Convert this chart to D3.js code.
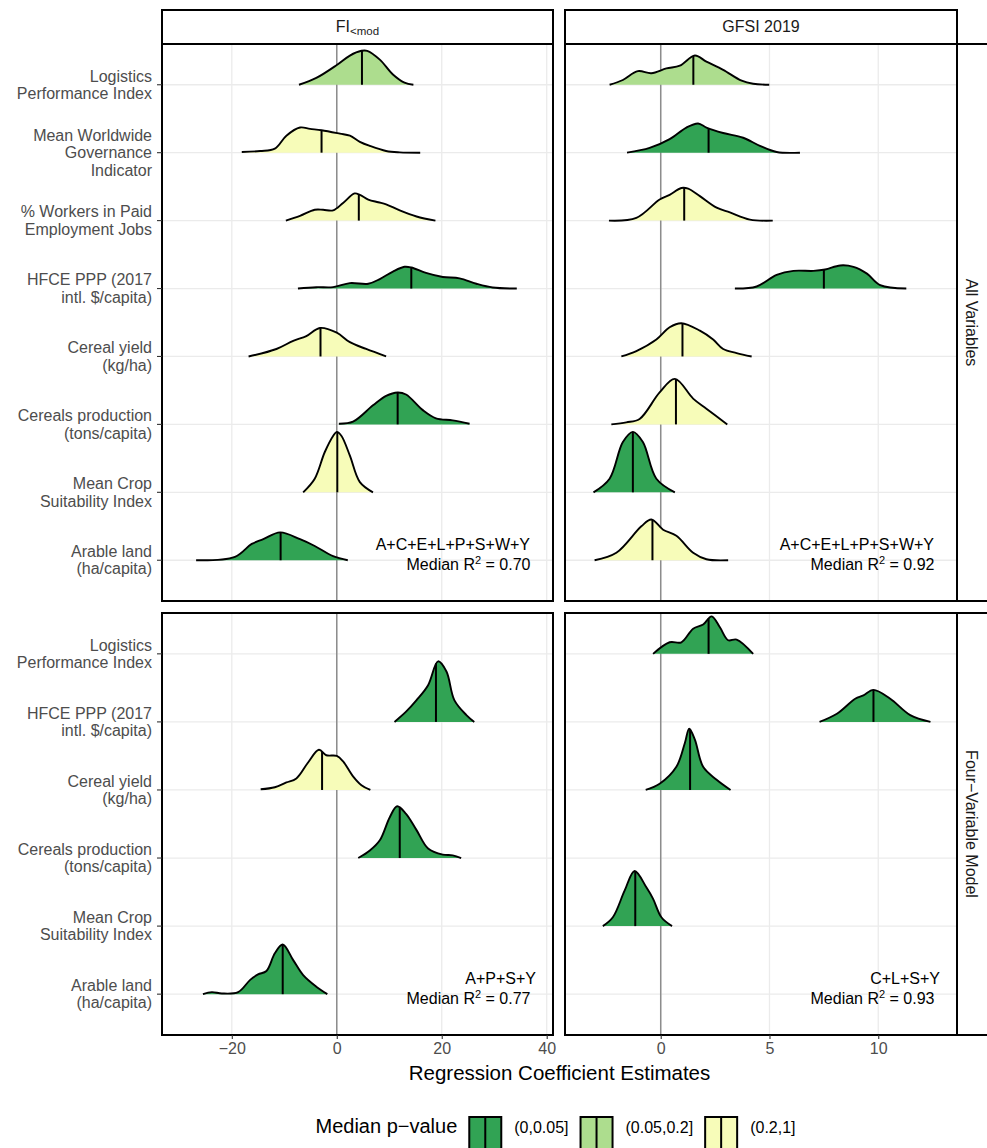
<!DOCTYPE html>
<html lang="en">
<head>
<meta charset="UTF-8">
<title>Regression Coefficient Estimates</title>
<script src="https://d3js.org/d3.v7.min.js"></script>
<style>
  body { margin: 0; background: #fff; }
  svg text { font-family: "Liberation Sans", Arial, Helvetica, sans-serif; }
</style>
</head>
<body>
<svg id="chart" width="987" height="1148"></svg>
<script>
// ---- data ----
const varLabels = {
  LPI: ["Logistics", "Performance Index"],
  WGI: ["Mean Worldwide", "Governance", "Indicator"],
  EMP: ["% Workers in Paid", "Employment Jobs"],
  HFCE: ["HFCE PPP (2017", "intl. $/capita)"],
  CY: ["Cereal yield", "(kg/ha)"],
  CP: ["Cereals production", "(tons/capita)"],
  CSI: ["Mean Crop", "Suitability Index"],
  AL: ["Arable land", "(ha/capita)"]
};
const rowsAll = ["LPI", "WGI", "EMP", "HFCE", "CY", "CP", "CSI", "AL"];
const rowsFour = ["LPI", "HFCE", "CY", "CP", "CSI", "AL"];
const rowNames = ["All Variables", "Four\u2212Variable Model"];
const colNames = ["FI", "GFSI 2019"];

const pBins = ["(0,0.05]", "(0.05,0.2]", "(0.2,1]"];
const pColors = ["#31a354", "#addd8e", "#f7fcb9"];

const xTicksFI = [-20, 0, 20, 40];
const xTicksGFSI = [0, 5, 10];

// ridge outlines: [coefficient, density height as share of one row]
const fiAll = [
  { v: "LPI", p: 1, median: 4.8, pts: [[-7.2,0],[-3.9,0.10],[0,0.29],[2.5,0.43],[4.7,0.50],[5.8,0.50],[8.2,0.37],[10.7,0.15],[12.9,0.03],[14.6,0]] },
  { v: "WGI", p: 2, median: -2.9, pts: [[-18.1,0.01],[-14.6,0.025],[-11.8,0.06],[-9.6,0.25],[-7.0,0.37],[-5.1,0.35],[-2.9,0.33],[0.6,0.28],[2.5,0.25],[4.4,0.16],[6.3,0.10],[9.4,0.025],[12,0.005],[15.9,0]] },
  { v: "EMP", p: 2, median: 4.2, pts: [[-9.7,0],[-7,0.07],[-4.2,0.16],[-2.6,0.16],[-0.7,0.15],[1.2,0.26],[3.4,0.40],[4.4,0.38],[6,0.31],[7.9,0.27],[9.4,0.24],[12,0.15],[15.2,0.06],[18.8,0]] },
  { v: "HFCE", p: 0, median: 14.2, pts: [[-7.4,0],[-3.9,0.02],[-0.7,0.02],[2.5,0.08],[6,0.07],[8.2,0.14],[10.7,0.25],[12.9,0.32],[14.2,0.31],[17,0.23],[20.2,0.17],[23.4,0.15],[26.6,0.07],[29.7,0.015],[34.3,0]] },
  { v: "CY", p: 2, median: -3.1, pts: [[-16.8,0],[-11.5,0.11],[-8.3,0.23],[-5.8,0.30],[-3.2,0.42],[0,0.35],[2.5,0.21],[5.6,0.11],[9.4,0]] },
  { v: "CP", p: 0, median: 11.6, pts: [[0.4,0.01],[3.1,0.04],[6.9,0.28],[9.4,0.42],[11.6,0.47],[13.2,0.44],[16.4,0.21],[18.9,0.09],[22.1,0.06],[25.3,0.01]] },
  { v: "CSI", p: 2, median: 0.1, pts: [[-6.4,0],[-4.2,0.20],[-2.3,0.59],[-0.7,0.83],[0,0.89],[0.9,0.83],[2.5,0.54],[4.4,0.15],[6.9,0]] },
  { v: "AL", p: 0, median: -10.7, pts: [[-26.8,0],[-19.4,0.05],[-16.2,0.24],[-14,0.31],[-10.8,0.41],[-7,0.31],[-4.2,0.21],[-0.7,0.06],[2.1,0]] }
];
const gfsiAll = [
  { v: "LPI", p: 1, median: 1.5, pts: [[-2.35,0],[-1.74,0.07],[-1.05,0.20],[-0.43,0.17],[0.26,0.24],[0.88,0.28],[1.57,0.43],[2.1,0.34],[2.87,0.22],[3.72,0.06],[4.25,0.015],[4.99,0]] },
  { v: "WGI", p: 0, median: 2.2, pts: [[-1.55,0],[-0.51,0.07],[0.41,0.20],[1.18,0.37],[1.72,0.43],[2.1,0.37],[2.87,0.29],[3.79,0.22],[4.56,0.10],[5.33,0.01],[6.4,0]] },
  { v: "EMP", p: 2, median: 1.08, pts: [[-2.38,0],[-1.12,0.04],[-0.05,0.31],[0.41,0.38],[0.95,0.48],[1.26,0.47],[1.8,0.36],[2.57,0.19],[3.18,0.12],[4.1,0.015],[5.15,0]] },
  { v: "HFCE", p: 0, median: 7.5, pts: [[3.41,0],[4.41,0.03],[5.33,0.20],[6.1,0.26],[7.02,0.26],[7.56,0.28],[8.25,0.34],[8.86,0.32],[9.48,0.22],[10.09,0.05],[11.29,0]] },
  { v: "CY", p: 2, median: 1.0, pts: [[-1.81,0],[-1.12,0.08],[-0.2,0.25],[0.41,0.43],[0.95,0.49],[1.8,0.38],[2.41,0.25],[2.87,0.11],[3.49,0.05],[4.18,0]] },
  { v: "CP", p: 2, median: 0.7, pts: [[-2.27,0],[-1.58,0.03],[-0.97,0.08],[-0.05,0.47],[0.65,0.67],[1.49,0.38],[2.1,0.23],[3.06,0]] },
  { v: "CSI", p: 0, median: -1.28, pts: [[-3.09,0],[-2.35,0.20],[-1.74,0.74],[-1.28,0.89],[-0.82,0.74],[-0.2,0.20],[0.65,0]] },
  { v: "AL", p: 2, median: -0.38, pts: [[-3.04,0],[-2.04,0.11],[-0.89,0.50],[-0.43,0.60],[0.11,0.45],[0.72,0.36],[1.49,0.11],[2.1,0.015],[3.1,0]] }
];
const fiFour = [
  { v: "HFCE", p: 0, median: 18.9, pts: [[11.0,0],[13.2,0.15],[15.2,0.32],[17.4,0.54],[19.3,0.89],[20.9,0.74],[22.4,0.32],[24.7,0.10],[26.2,0]] },
  { v: "CY", p: 2, median: -2.8, pts: [[-14.5,0.01],[-11.8,0.04],[-9.6,0.11],[-7.7,0.17],[-5.5,0.40],[-3.4,0.59],[-2,0.51],[0,0.50],[1.2,0.42],[3.1,0.20],[4.7,0.07],[6.4,0]] },
  { v: "CP", p: 0, median: 12.0, pts: [[4.1,0],[6.3,0.11],[8.2,0.26],[10.1,0.60],[11.5,0.76],[13.2,0.65],[15.2,0.41],[17.4,0.14],[20.2,0.05],[22.1,0.04],[23.7,0]] },
  { v: "AL", p: 0, median: -10.3, pts: [[-25.5,0],[-23.8,0.03],[-21.9,0.01],[-18.8,0.03],[-16.5,0.21],[-15,0.29],[-13.4,0.34],[-11.8,0.60],[-10.3,0.73],[-8.3,0.50],[-6.4,0.28],[-3.9,0.11],[-1.8,0]] }
];
const gfsiFour = [
  { v: "LPI", p: 0, median: 2.2, pts: [[-0.35,0],[0.41,0.17],[0.95,0.17],[1.49,0.37],[1.95,0.43],[2.34,0.55],[2.72,0.39],[3.1,0.20],[3.49,0.21],[4.25,0]] },
  { v: "HFCE", p: 0, median: 9.78, pts: [[7.3,0],[8.1,0.12],[8.94,0.34],[9.32,0.39],[9.78,0.47],[10.55,0.34],[11.47,0.10],[12.4,0]] },
  { v: "CY", p: 0, median: 1.35, pts: [[-0.69,0],[-0.05,0.09],[0.72,0.34],[1.11,0.69],[1.31,0.90],[1.57,0.74],[1.95,0.34],[2.57,0.15],[3.21,0]] },
  { v: "CSI", p: 0, median: -1.17, pts: [[-2.66,0],[-2.2,0.13],[-1.66,0.52],[-1.2,0.81],[-0.66,0.57],[-0.35,0.40],[0.03,0.13],[0.52,0]] }
];

const modelLabels = [["A+C+E+L+P+S+W+Y", "A+C+E+L+P+S+W+Y"], ["A+P+S+Y", "C+L+S+Y"]];
const medianR2 = [["0.70", "0.92"], ["0.77", "0.93"]];

// ---- layout ----
const svg = d3.select("#chart");
const cols = [{ left: 162, right: 553, domain: [-33.3, 41.2], ticks: xTicksFI },
              { left: 565, right: 957, domain: [-4.4, 13.62], ticks: xTicksGFSI }];
const rows = [{ top: 44, bottom: 601, cats: rowsAll, data: [fiAll, gfsiAll] },
              { top: 613, bottom: 1035, cats: rowsFour, data: [fiFour, gfsiFour] }];

svg.append("rect").attr("width", 987).attr("height", 1148).attr("fill", "#fff");

const xScales = cols.map(c => d3.scaleLinear().domain(c.domain).range([c.left, c.right]));
const yScales = rows.map(r => d3.scalePoint().domain(r.cats).range([r.top, r.bottom]).padding(0.6));
const ridgeCurve = d3.curveCatmullRom.alpha(0.5);

function heightAt(node, xTarget) {
  const L = node.getTotalLength();
  let lo = 0, hi = L;
  for (let i = 0; i < 30; i++) {
    const mid = (lo + hi) / 2;
    if (node.getPointAtLength(mid).x < xTarget) lo = mid; else hi = mid;
  }
  return node.getPointAtLength((lo + hi) / 2).y;
}

rows.forEach((row, ri) => {
  const y = yScales[ri];
  const step = y.step();
  cols.forEach((col, ci) => {
    const x = xScales[ci];
    const g = svg.append("g");

    // grid
    g.selectAll(".vg").data(col.ticks).enter().append("line")
      .attr("x1", d => x(d)).attr("x2", d => x(d))
      .attr("y1", row.top).attr("y2", row.bottom)
      .attr("stroke", "#ebebeb").attr("stroke-width", 1.3);
    g.selectAll(".hg").data(row.cats).enter().append("line")
      .attr("x1", col.left).attr("x2", col.right)
      .attr("y1", d => y(d)).attr("y2", d => y(d))
      .attr("stroke", "#ebebeb").attr("stroke-width", 1.3);

    // zero reference
    g.append("line")
      .attr("x1", x(0)).attr("x2", x(0)).attr("y1", row.top).attr("y2", row.bottom)
      .attr("stroke", "#8c8c8c").attr("stroke-width", 1.5);

    // ridges, top row first so lower ridges sit on top
    const ridges = row.data[ci].slice().sort((a, b) => y(a.v) - y(b.v));
    ridges.forEach(r => {
      const base = y(r.v);
      const area = d3.area().curve(ridgeCurve)
        .x(d => x(d[0])).y0(base).y1(d => base - d[1] * step);
      const line = d3.line().curve(ridgeCurve)
        .x(d => x(d[0])).y(d => base - d[1] * step);
      g.append("path").attr("d", area(r.pts)).attr("fill", pColors[r.p]);
      const top = g.append("path").attr("d", line(r.pts))
        .attr("fill", "none").attr("stroke", "#000").attr("stroke-width", 1.9)
        .attr("stroke-linejoin", "round");
      const ym = heightAt(top.node(), x(r.median));
      g.append("line")
        .attr("x1", x(r.median)).attr("x2", x(r.median))
        .attr("y1", base).attr("y2", ym)
        .attr("stroke", "#000").attr("stroke-width", 2);
    });

    // model annotation
    const lastBase = y(row.cats[row.cats.length - 1]);
    g.append("text")
      .attr("x", col.right - (ri === 0 ? 23 : 17)).attr("y", lastBase - 10)
      .attr("text-anchor", "end").attr("font-size", 16).attr("fill", "#000")
      .text(modelLabels[ri][ci]);
    const r2 = g.append("text")
      .attr("x", col.right - 22.5).attr("y", lastBase + 10)
      .attr("text-anchor", "end").attr("font-size", 16).attr("fill", "#000");
    r2.append("tspan").text("Median R");
    r2.append("tspan").attr("font-size", 11).attr("dy", -6).text("2");
    r2.append("tspan").attr("dy", 6).text(" = " + medianR2[ri][ci]);

    // panel border
    g.append("rect")
      .attr("x", col.left).attr("y", row.top)
      .attr("width", col.right - col.left).attr("height", row.bottom - row.top)
      .attr("fill", "none").attr("stroke", "#000").attr("stroke-width", 2);

    // y axis (left column only)
    if (ci === 0) {
      row.cats.forEach(c => {
        g.append("line")
          .attr("x1", col.left - 5).attr("x2", col.left)
          .attr("y1", y(c)).attr("y2", y(c))
          .attr("stroke", "#333").attr("stroke-width", 1.1);
        const lines = varLabels[c];
        const t = g.append("text")
          .attr("x", col.left - 10).attr("y", y(c))
          .attr("text-anchor", "end").attr("font-size", 16).attr("fill", "#4d4d4d");
        lines.forEach((ln, i) => {
          t.append("tspan").attr("x", col.left - 10)
            .attr("y", y(c) + (i - (lines.length - 1) / 2) * 17.5 + 5.5)
            .text(ln);
        });
      });
    }

    // x axis (bottom row only)
    if (ri === rows.length - 1) {
      const ax = g.append("g").attr("transform", `translate(0,${row.bottom})`)
        .call(d3.axisBottom(x).tickValues(col.ticks).tickSize(4).tickPadding(4));
      ax.select(".domain").remove();
      ax.selectAll(".tick line").attr("stroke", "#333").attr("stroke-width", 1.1);
      ax.selectAll(".tick text").attr("font-size", 16).attr("fill", "#4d4d4d")
        .attr("font-family", null);
    }
  });
});

// column strips
cols.forEach((col, ci) => {
  svg.append("rect")
    .attr("x", col.left).attr("y", 10).attr("width", col.right - col.left).attr("height", 34)
    .attr("fill", "#fff").attr("stroke", "#000").attr("stroke-width", 2);
  const t = svg.append("text")
    .attr("x", (col.left + col.right) / 2).attr("y", 32)
    .attr("text-anchor", "middle").attr("font-size", 16).attr("fill", "#1a1a1a");
  t.append("tspan").text(colNames[ci]);
  if (ci === 0) t.append("tspan").attr("font-size", 11.5).attr("dy", 3).text("<mod");
});

// row strips
rows.forEach((row, ri) => {
  svg.append("rect")
    .attr("x", 957).attr("y", row.top).attr("width", 50).attr("height", row.bottom - row.top)
    .attr("fill", "#fff").attr("stroke", "#000").attr("stroke-width", 2);
  svg.append("text")
    .attr("transform", `translate(966,${(row.top + row.bottom) / 2}) rotate(90)`)
    .attr("text-anchor", "middle").attr("font-size", 16).attr("fill", "#1a1a1a")
    .text(rowNames[ri]);
});

// axis title
const panelMid = (cols[0].left + cols[1].right) / 2;
svg.append("text")
  .attr("x", panelMid).attr("y", 1080)
  .attr("text-anchor", "middle").attr("font-size", 20.5).attr("fill", "#000")
  .text("Regression Coefficient Estimates");

// legend
const leg = svg.append("g");
const legTitle = leg.append("text")
  .attr("x", 0).attr("y", 1133).attr("font-size", 20).attr("fill", "#000")
  .text("Median p\u2212value");
let cursor = legTitle.node().getComputedTextLength() + 12;
pBins.forEach((b, i) => {
  leg.append("rect")
    .attr("x", cursor).attr("y", 1117).attr("width", 32).attr("height", 34)
    .attr("fill", pColors[i]).attr("stroke", "#000").attr("stroke-width", 2);
  leg.append("line")
    .attr("x1", cursor + 16).attr("x2", cursor + 16).attr("y1", 1117).attr("y2", 1151)
    .attr("stroke", "#000").attr("stroke-width", 2);
  const lt = leg.append("text")
    .attr("x", cursor + 45).attr("y", 1133).attr("font-size", 16).attr("fill", "#000")
    .text(b);
  cursor += 45 + lt.node().getComputedTextLength() + 12;
});
const legWidth = cursor - 12;
leg.attr("transform", `translate(${panelMid - legWidth / 2 - 4},0)`);
</script>
</body>
</html>
